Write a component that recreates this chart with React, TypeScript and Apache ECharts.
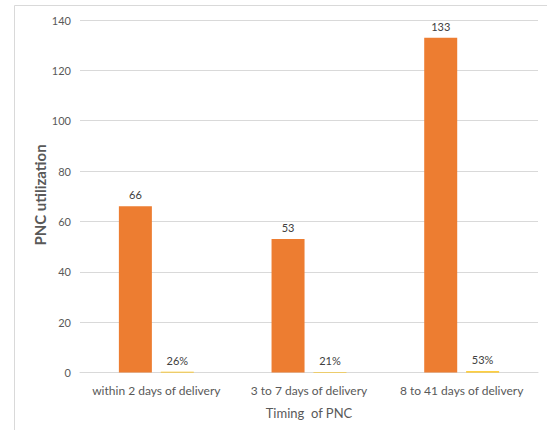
import React, { useEffect, useRef } from "react";
import * as echarts from "echarts";

const categories = ["within 2 days of delivery", "3 to 7 days of delivery", "8 to 41 days of delivery"];
const utilization = [66, 53, 133];
const share = [0.26, 0.21, 0.53];
const yTicks = { min: 0, max: 140, interval: 20 };
const yTitle = "PNC utilization";

export default function App() {
  const ref = useRef<HTMLDivElement>(null);
  useEffect(() => {
    document.body.style.margin = "0";
    const chart = echarts.init(ref.current!, null, { renderer: "svg" });
    const font = "Lato, 'Open Sans', sans-serif";
    chart.setOption({
      animation: false,
      textStyle: { fontFamily: font },
      graphic: [
        {
          type: "rect",
          shape: { x: 14.5, y: 5.5, width: 700, height: 600 },
          style: { fill: "none", stroke: "#D9D9D9", lineWidth: 1 },
          silent: true,
        },
        {
          type: "text",
          x: 40,
          y: 195,
          rotation: Math.PI / 2,
          style: {
            text: yTitle,
            fontFamily: font,
            fontSize: 15,
            fontWeight: "bold",
            fill: "#595959",
            align: "center",
            verticalAlign: "middle",
          },
          silent: true,
        },
      ],
      grid: { left: 80, right: 9, top: 20, bottom: 57.5 },
      xAxis: {
        type: "category",
        data: categories,
        name: "Timing  of PNC",
        nameLocation: "middle",
        nameGap: 34,
        nameTextStyle: { fontFamily: font, fontSize: 13, color: "#595959" },
        axisLine: { lineStyle: { color: "#D9D9D9" } },
        axisTick: { show: false },
        axisLabel: { interval: 0, fontFamily: font, fontSize: 12, color: "#595959", margin: 12 },
      },
      yAxis: {
        type: "value",
        min: yTicks.min,
        max: yTicks.max,
        interval: yTicks.interval,
        axisLine: { show: false },
        axisTick: { show: false },
        axisLabel: { fontFamily: font, fontSize: 11, color: "#595959", margin: 9 },
        splitLine: { lineStyle: { color: "#D9D9D9" } },
      },
      series: [
        {
          type: "bar",
          data: utilization,
          barWidth: 33,
          barGap: "27%",
          itemStyle: { color: "#ED7D31" },
          label: { show: true, position: "top", distance: 6, fontFamily: font, fontSize: 11, color: "#404040" },
        },
        {
          type: "bar",
          data: share,
          barWidth: 33,
          itemStyle: { color: "#FFC000" },
          label: {
            show: true,
            position: "top",
            distance: 6,
            fontFamily: font,
            fontSize: 11,
            color: "#404040",
            formatter: (p: any) => `${Math.round(p.value * 100)}%`,
          },
        },
      ],
    });
    return () => chart.dispose();
  }, []);
  return <div ref={ref} style={{ width: 547, height: 430 }} />;
}
